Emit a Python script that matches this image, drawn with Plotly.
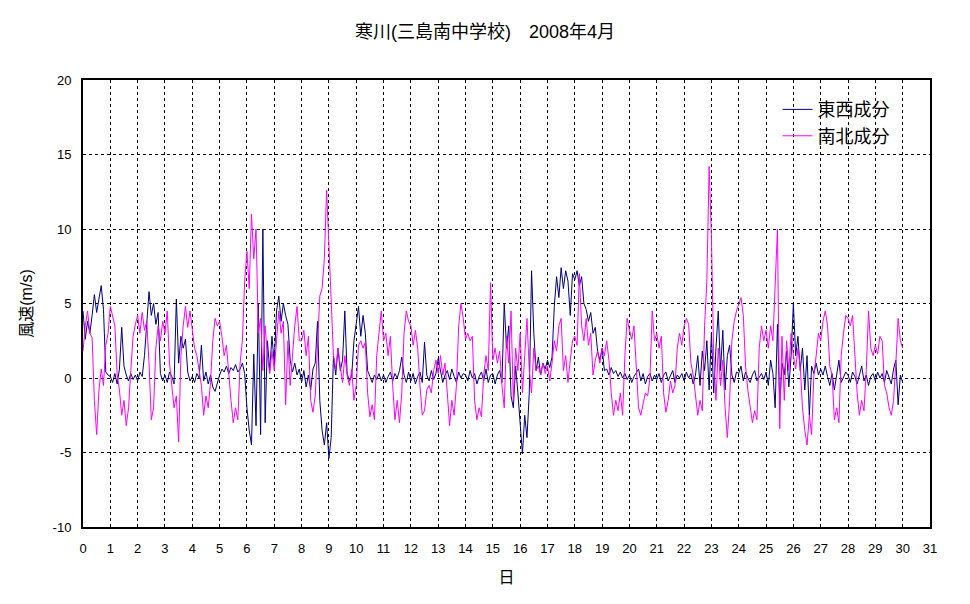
import numpy as np
import plotly.graph_objects as go

# 2-hourly readings (12 per day), day 0 .. day 30
ew_by_day = [
    [4.5, 2.6, 3.8, 3.0, 4.2, 5.6, 4.4, 5.2, 6.2, 4.6, 0.4, 0.2],
    [0.1, -0.3, 0.3, -0.4, 0.6, 3.4, 0.8, 0.2, -0.2, 0.3, -0.1, 0.2],
    [-0.2, 0.4, 0.1, 1.5, 3.8, 5.8, 4.2, 5.0, 3.6, 4.4, 0.3, -0.2],
    [0.2, -0.3, 0.4, 0.1, -0.4, 5.3, 1.0, 2.8, 2.0, 2.6, 0.4, -0.2],
    [0.1, -0.3, 0.3, 0.0, 2.2, -0.2, 0.4, -0.4, 0.2, -0.6, -0.9, -0.3],
    [0.2, 0.6, 0.4, 0.8, 0.3, 0.7, 0.5, 0.9, 0.4, 0.6, 1.0, 0.3],
    [-2.0, -3.5, -4.5, 1.6, -3.2, 5.0, -3.8, 10.0, -3.0, 2.5, 0.5, 2.8],
    [1.0, 4.5, 5.5, 3.8, 5.0, 4.2, 3.6, 1.2, 0.4, 1.0, 0.2, 0.6],
    [-0.3, 0.5, -0.6, 0.2, -0.8, 0.6, 1.0, 3.8, -1.5, -3.5, -4.5, -3.0],
    [-5.4, -4.0, 1.5, 0.2, 2.0, 0.5, 1.2, 4.5, 0.3, -0.2, 0.1, 2.5],
    [3.5, 4.8, 2.8, 4.2, 3.0, 0.5, 0.1, -0.3, 0.2, -0.1, 0.3, -0.2],
    [0.2, -0.3, 0.1, 0.4, -0.2, 0.3, 0.0, 0.5, 1.4, 0.2, -0.3, 0.4],
    [-0.2, 0.3, -0.4, 0.1, 0.4, -0.3, 2.4, 0.2, -0.2, 0.5, -0.1, 0.3],
    [1.3, 0.4, -0.3, 0.2, 0.5, -0.1, 0.6, 0.1, -0.3, 0.4, 0.0, 0.3],
    [0.2, -0.2, 0.5, 0.0, 0.3, -0.4, 0.1, 0.4, -0.2, 0.6, -0.3, 0.2],
    [0.3, -0.4, 0.2, 0.5, -0.3, 5.0, 2.0, 3.5, -1.2, -2.0, 0.8, -1.0],
    [-3.0, -5.1, -2.5, -4.0, -1.0, 7.2, 3.0, 0.5, 1.4, 0.2, 1.0, 0.6],
    [1.2, 0.7, 1.4, 4.8, 6.8, 5.4, 7.4, 6.0, 7.2, 6.5, 4.2, 7.0],
    [6.6, 7.2, 6.2, 6.8, 5.0, 4.6, 3.8, 4.4, 3.0, 3.4, 1.8, 1.2],
    [2.0, 0.5, 0.6, 0.2, 0.7, 0.3, 0.5, 0.1, 0.4, 0.0, 0.3, -0.1],
    [0.2, -0.3, 0.1, 0.4, 0.6, -0.2, 0.3, -0.4, 0.1, 0.3, -0.2, 0.2],
    [-0.1, 0.3, -0.3, 0.2, 0.4, -0.2, 0.1, 0.5, -0.3, 0.2, 0.0, 0.3],
    [-0.2, 0.4, 0.0, 0.3, -0.4, 0.2, 1.5, -0.5, 1.8, 0.5, 2.5, -0.8],
    [3.0, -1.0, 2.0, 4.5, 0.5, 3.2, -0.8, 1.5, 2.2, 0.2, -0.3, 0.4],
    [0.3, 0.8, -0.2, 0.4, 0.0, -0.3, 0.2, 0.5, -0.2, 0.1, 0.3, -0.1],
    [0.4, -0.5, 1.2, 0.3, -2.0, 3.6, -1.8, 1.0, 0.2, 1.8, -0.6, 1.5],
    [5.0, 1.5, 2.8, 0.5, 2.0, -0.8, 1.5, -2.5, 0.8, 0.3, 1.0, 0.2],
    [0.6, 0.2, 0.8, 0.1, -0.5, 0.3, -0.8, 0.2, 1.2, -0.3, 0.1, 0.4],
    [0.2, -0.3, 0.4, 0.1, -0.4, 0.3, 0.8, -0.2, 0.2, -0.5, 0.1, 0.3],
    [-0.2, 0.4, 0.0, 0.3, -0.3, 0.5, 0.1, -0.4, 0.6, 1.2, -1.8, 0.2],
    [-0.3],
]

ns_by_day = [
    [1.8, 3.5, 4.5, 3.0, 2.7, -1.5, -3.8, -0.8, 0.6, -0.5, 2.2, 3.0],
    [4.8, 4.2, 3.5, 0.2, -0.8, -2.5, -1.5, -3.2, -2.0, 0.5, 2.8, 3.6],
    [4.2, 3.0, 4.4, 3.2, 3.8, 1.0, -2.8, -2.0, 2.0, 3.5, 2.5, 3.8],
    [3.0, 4.5, 1.0, -0.5, -2.0, -1.2, -4.3, 1.5, 3.5, 4.8, 3.4, 4.5],
    [3.2, 2.0, 1.5, 0.4, -0.5, -2.5, -1.2, -2.0, -0.3, 2.5, 4.0, 3.5],
    [3.8, 2.8, 1.5, 2.2, 0.2, -1.5, -3.0, -2.0, -2.8, 1.0, 2.5, 6.5],
    [8.5, 6.0, 11.0, 8.0, 10.0, 3.0, 4.0, 0.5, 3.5, 1.5, 0.3, 1.8],
    [0.5, 2.5, 4.5, 3.0, 3.8, -1.8, 2.5, -0.5, 1.8, 3.5, 4.8, 2.5],
    [2.5, 3.2, 1.5, 2.8, -1.5, -2.3, -1.2, 2.0, 5.5, 6.0, 8.0, 12.6],
    [9.0, 4.5, 1.5, 0.6, 2.0, 0.8, -0.3, 1.5, 0.2, -0.5, 0.6, -1.5],
    [-0.5, 2.2, 2.5, 2.0, 2.4, -1.0, -2.6, -1.8, -2.8, 1.5, 3.0, 4.5],
    [2.5, 3.0, 1.5, 2.8, -0.5, -2.8, -1.5, -3.0, -1.0, 3.0, 4.5, 3.8],
    [3.5, 2.2, 3.2, 2.0, -0.5, -2.5, -2.2, -0.8, -0.5, -1.0, 0.5, 1.2],
    [0.3, 1.5, 0.2, 1.0, -1.0, -3.2, -1.5, -2.5, -0.5, 3.5, 5.0, 4.0],
    [2.6, 3.0, 2.5, 2.8, -1.5, -2.8, -2.0, -2.6, 0.2, 1.5, 0.5, 6.4],
    [1.2, 2.0, 1.0, 1.8, -0.5, -2.0, 2.8, 1.0, 4.5, -1.5, 2.0, 0.5],
    [3.0, -1.0, 1.5, 4.0, 0.5, -1.0, 2.0, 0.5, 0.8, 0.2, 1.0, 0.3],
    [0.8, -0.2, 1.0, 2.5, 1.8, 3.5, 4.0, 0.5, 1.5, -0.3, 1.2, 2.5],
    [2.8, 2.2, 7.0, 3.5, 2.5, 4.0, 2.2, 3.0, 0.2, 1.2, 1.8, 1.0],
    [2.0, 1.5, 2.5, 1.2, -1.0, -2.5, -1.5, -2.2, -1.0, -2.5, 1.5, 4.0],
    [3.2, 2.6, 3.5, 0.5, -2.0, -2.5, -1.8, -1.0, -1.2, 0.0, 4.5, 2.5],
    [3.0, 2.0, 2.8, -1.0, -2.3, -1.5, -0.2, -1.0, -0.5, 2.0, 3.0, 2.2],
    [3.5, 4.0, 3.6, 1.0, 0.2, -1.0, -2.5, -1.5, -2.2, 3.5, 6.5, 14.2],
    [9.5, 1.5, -1.5, 2.0, -0.5, 1.2, -2.0, -4.0, -1.5, 2.5, 3.8, 4.5],
    [5.0, 5.4, 4.2, 0.8, -0.8, -2.0, -3.0, -2.2, -2.8, 2.0, 3.5, 2.5],
    [3.2, 2.0, 3.5, 2.5, 6.0, 10.0, -3.4, 2.8, -1.5, 2.5, 0.5, 3.0],
    [1.5, 0.6, 2.0, 0.8, -2.0, -3.5, -4.5, -2.5, -3.8, 0.2, 1.5, 3.0],
    [2.5, 3.8, 4.5, 3.5, 0.8, 0.2, -2.8, -2.0, -3.0, 1.5, 3.0, 4.2],
    [4.0, 3.5, 4.2, 1.5, -1.0, -2.5, -1.5, -2.2, 0.5, 4.5, 2.0, 1.5],
    [2.2, 1.6, 2.8, 2.5, -0.5, -1.0, -2.0, -2.5, -1.5, 1.0, 4.0, 2.5],
    [2.0],
]

x_ticks = list(range(0, 32))
y_ticks = [-10, -5, 0, 5, 10, 15, 20]

ew = [v for day in ew_by_day for v in day]
ns = [v for day in ns_by_day for v in day]
t = np.arange(len(ew)) / 12.0

FONT = "Liberation Sans, Noto Sans CJK JP, sans-serif"

fig = go.Figure()
fig.add_trace(go.Scatter(x=t, y=ew, mode="lines", name="東西成分",
                         line=dict(color="#000080", width=1)))
fig.add_trace(go.Scatter(x=t, y=ns, mode="lines", name="南北成分",
                         line=dict(color="#FF00FF", width=1)))

axis_common = dict(showline=True, linecolor="black", linewidth=2, mirror=True,
                   showgrid=True, gridcolor="black", griddash="3px,3px", gridwidth=1,
                   zeroline=False, ticks="", automargin=False,
                   tickfont=dict(size=13, color="black", family=FONT))

# page has an 8px body margin, so figure coordinates are offset by 8px
fig.update_layout(
    width=970, height=604,
    margin=dict(l=75, r=48, t=72, b=85),
    paper_bgcolor="white", plot_bgcolor="white",
    font=dict(family=FONT, color="black"),
    title=dict(text="寒川(三島南中学校)　2008年4月", x=(485 - 8) / 970, xref="container",
               xanchor="center",
               y=1 - 24 / 604, yref="container", yanchor="middle",
               font=dict(size=18, color="black", family=FONT)),
    xaxis=dict(range=[0, 31], tickvals=x_ticks, ticktext=[str(v) for v in x_ticks],
               ticklabelstandoff=8,
               title=dict(text="日", font=dict(size=16), standoff=17), **axis_common),
    yaxis=dict(range=[-10, 20], tickvals=y_ticks, ticktext=[str(v) for v in y_ticks],
               ticklabelstandoff=7,
               title=dict(text="風速(m/s)", font=dict(size=16), standoff=16), **axis_common),
    legend=dict(x=0.82, y=0.975, xanchor="left", yanchor="top",
                bgcolor="rgba(0,0,0,0)", font=dict(size=18, color="black", family=FONT),
                itemwidth=30, tracegroupgap=0),
    showlegend=True,
)

fig.write_html("out.html")
